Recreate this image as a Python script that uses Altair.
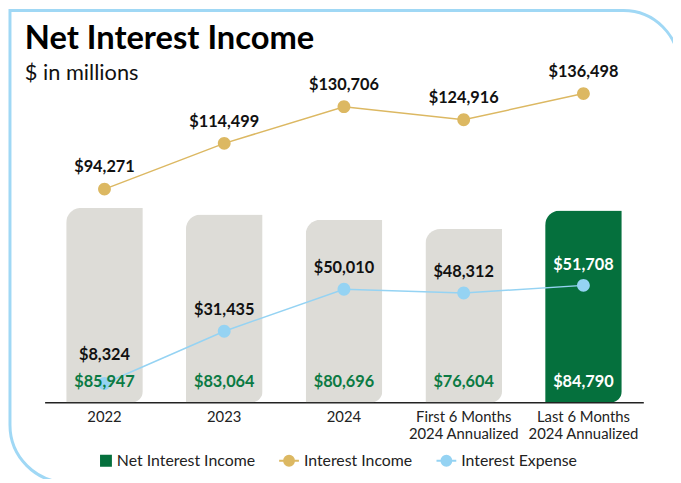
import altair as alt
import pandas as pd

categories = ["2022", "2023", "2024", "First 6 Months 2024 Annualized", "Last 6 Months 2024 Annualized"]
net_interest_income = [85947, 83064, 80696, 76604, 84790]
interest_income = [94271, 114499, 130706, 124916, 136498]
interest_expense = [8324, 31435, 50010, 48312, 51708]
series_names = ["Net Interest Income", "Interest Income", "Interest Expense"]
chart_title = "Net Interest Income"
chart_subtitle = "$ in millions"

rows = []
for name, vals in zip(series_names, [net_interest_income, interest_income, interest_expense]):
    for c, v in zip(categories, vals):
        rows.append({"series": name, "category": c, "value": v})
df = pd.DataFrame(rows)

GREEN = "#05703d"
GOLD = "#dcb862"
BLUE = "#95d3f3"
GRAY = "#dddcd7"
LABEL_GREEN = "#0b7a43"
FRAME = "#a0d8f5"
FONT = "Lato"
last = categories[-1]

square_path = "M-0.1,-0.5H0.9V0.5H-0.1Z"
line_dot_path = "M-1,0H1M0.5,0A0.5,0.5,0,1,1,-0.5,0A0.5,0.5,0,1,1,0.5,0"

color_scale = alt.Scale(domain=series_names, range=[GREEN, GOLD, BLUE])
shape_scale = alt.Scale(domain=series_names, range=[square_path, line_dot_path, line_dot_path])
legend = alt.Legend(title=None, orient="none", legendX=47, legendY=368, direction="horizontal",
                    symbolSize=400, labelFont=FONT, labelFontSize=16, labelColor="#222",
                    columnPadding=20, labelOffset=4, symbolStrokeWidth=2)

x = alt.X("category:N", sort=categories,
          scale=alt.Scale(paddingInner=0.36, paddingOuter=0.18),
          axis=alt.Axis(title=None, labelAngle=0,
                        labelExpr="split(replace(datum.label, ' 2024 ', '|2024 '), '|')",
                        ticks=False, domainColor="#222", domainWidth=1.5, labelFont=FONT,
                        labelFontSize=15, labelColor="#222", labelPadding=7, labelLineHeight=18,
                        grid=False))
y = alt.Y("value:Q", scale=alt.Scale(domain=[0, 140000], nice=False, zero=True), axis=None)

base = alt.Chart(df)
is_nii = alt.datum.series == "Net Interest Income"
not_nii = alt.datum.series != "Net Interest Income"

frame = alt.Chart(alt.Data(values=[{}])).mark_rect(
    fillOpacity=0, stroke=FRAME, strokeWidth=3,
    cornerRadiusTopRight=56, cornerRadiusBottomLeft=58
).encode(x=alt.value(-35), x2=alt.value(641), y=alt.value(-76), y2=alt.value(401))

title_text = alt.Chart(alt.Data(values=[{"t": chart_title}])).mark_text(
    font=FONT, fontSize=33, fontWeight="bold", color="black", align="left", baseline="alphabetic"
).encode(x=alt.value(-20), y=alt.value(-37), text="t:N")

subtitle_text = alt.Chart(alt.Data(values=[{"t": chart_subtitle}])).mark_text(
    font=FONT, fontSize=22, color="#111", align="left", baseline="alphabetic"
).encode(x=alt.value(-20), y=alt.value(-6), text="t:N")

bars = base.transform_filter(is_nii).mark_bar(
    cornerRadiusTopLeft=15, cornerRadiusBottomRight=11
).encode(
    x=x, y=y,
    fill=alt.condition(alt.datum.category != last, alt.value(GRAY),
                       alt.Fill("series:N", scale=color_scale, legend=legend)),
)

lines = base.transform_filter(not_nii).mark_line(strokeWidth=1.5).encode(
    x=x, y=y, stroke=alt.Stroke("series:N", scale=color_scale, legend=legend)
)

points = base.transform_filter(not_nii).mark_point(filled=True, size=676, opacity=1).encode(
    x=x, y=y,
    fill=alt.Fill("series:N", scale=color_scale, legend=legend),
    shape=alt.Shape("series:N", scale=shape_scale, legend=legend),
)

income_labels = base.transform_filter(alt.datum.series == "Interest Income").mark_text(
    dy=-22, font=FONT, fontSize=16.5, fontWeight="bold", color="#111", baseline="middle"
).encode(x=x, y=y, text=alt.Text("value:Q", format="$,.0f"))

expense_labels = base.transform_filter(alt.datum.series == "Interest Expense").transform_calculate(
    label_y="max(datum.value, 11500)"
).mark_text(
    dy=-21, font=FONT, fontSize=16.5, fontWeight="bold", baseline="middle"
).encode(x=x, y=alt.Y("label_y:Q"), text=alt.Text("value:Q", format="$,.0f"),
         color=alt.condition(alt.datum.category == last, alt.value("white"), alt.value("#111")))

nii_labels = base.transform_filter(is_nii).mark_text(
    dy=-20, font=FONT, fontSize=16.5, fontWeight="bold", baseline="middle"
).encode(x=x, y=alt.datum(0), text=alt.Text("value:Q", format="$,.0f"),
         color=alt.condition(alt.datum.category == last, alt.value("white"), alt.value(LABEL_GREEN)))

chart = alt.layer(frame, title_text, subtitle_text, bars, lines, points,
                  income_labels, expense_labels, nii_labels).properties(
    width=605, height=320,
    padding={"left": 37, "top": 76, "right": 30, "bottom": 75},
    autosize=alt.AutoSizeParams(type="none"),
).configure_view(stroke=None)

chart.save("out.html", embed_options={"renderer": "svg", "actions": False})
